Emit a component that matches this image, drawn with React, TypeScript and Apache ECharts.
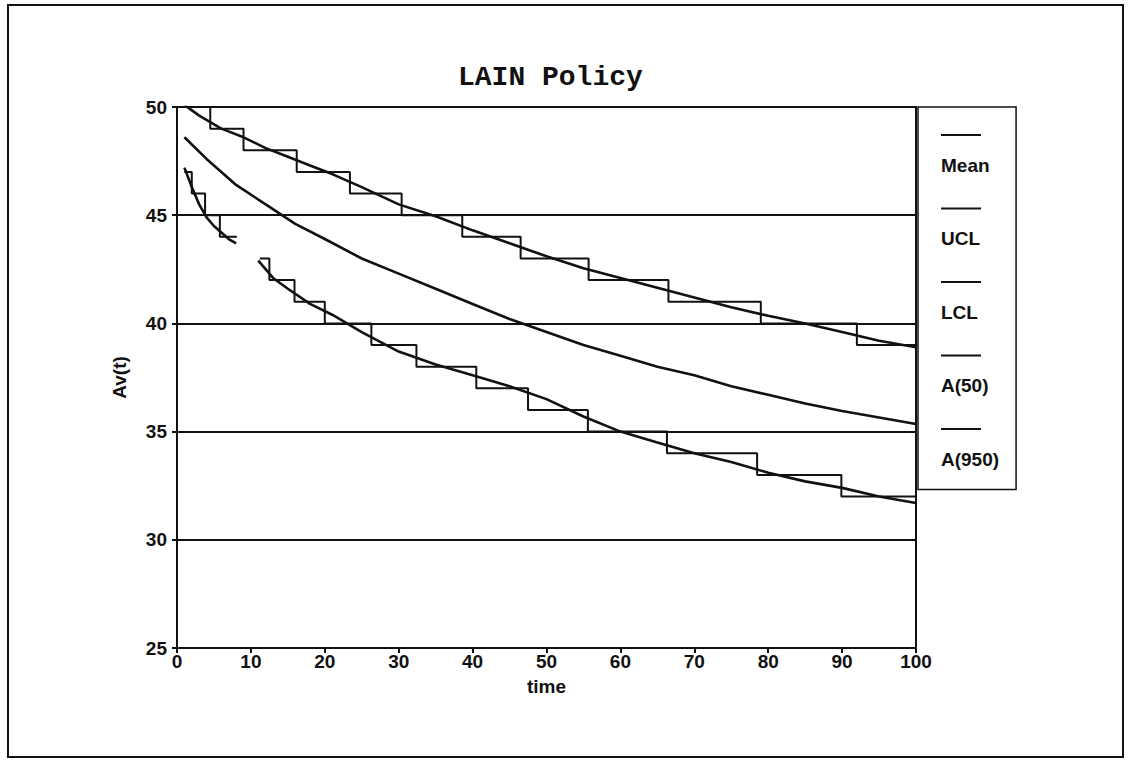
import React, { useEffect, useRef } from 'react';
import * as echarts from 'echarts';

// ---- data ----
const seriesNames = ['Mean', 'UCL', 'LCL', 'A(50)', 'A(950)'];

const meanT = [1, 4, 8, 12, 16, 20, 25, 30, 35, 40, 45, 50, 55, 60, 65, 70, 75, 80, 85, 90, 95, 100];
const meanV = [48.6, 47.6, 46.4, 45.5, 44.6, 43.9, 43.0, 42.3, 41.6, 40.9, 40.2, 39.6, 39.0, 38.5, 38.0, 37.6, 37.1, 36.7, 36.3, 35.95, 35.65, 35.35];

const uclT = [1, 3, 6, 9, 12, 15, 18, 21, 25, 30, 35, 40, 45, 50, 55, 60, 65, 70, 75, 80, 85, 90, 95, 100];
const uclV = [50.1, 49.6, 49.0, 48.6, 48.1, 47.7, 47.3, 46.9, 46.3, 45.5, 44.95, 44.3, 43.7, 43.1, 42.55, 42.1, 41.65, 41.2, 40.75, 40.35, 40.0, 39.6, 39.2, 38.9];

const lclT = [1, 2, 3, 4, 5, 6, 7, 8, 9.5, 11, 13, 15, 18, 21, 25, 30, 35, 40, 45, 50, 55, 60, 65, 70, 75, 80, 85, 90, 95, 100];
const lclV = [47.2, 46.3, 45.5, 44.9, 44.5, 44.2, 43.9, 43.7, null, 42.9, 42.1, 41.6, 40.9, 40.4, 39.6, 38.7, 38.1, 37.6, 37.1, 36.5, 35.7, 35.0, 34.5, 34.0, 33.6, 33.1, 32.7, 32.4, 32.0, 31.7];

const a50T = [1, 2, 3.8, 5.8, 8, 8.1, 11.2, 12.5, 15.9, 20, 26.3, 32.4, 40.5, 47.5, 55.6, 66.3, 78.5, 89.9, 100];
const a50V = [47, 46, 45, 44, 44, null, 43, 42, 41, 40, 39, 38, 37, 36, 35, 34, 33, 32, 32];

const a950T = [1, 4.5, 9, 16.2, 23.4, 30.4, 38.6, 46.5, 55.7, 66.5, 79, 92, 100];
const a950V = [50, 49, 48, 47, 46, 45, 44, 43, 42, 41, 40, 39, 39];

const xTicks = { min: 0, max: 100, interval: 10 };
const yTicks = { min: 25, max: 50, interval: 5 };

const pair = (t: number[], v: (number | null)[]) => t.map((x, i) => [x, v[i]]);

const INK = '#111';
const SANS = "'Liberation Sans Narrow', 'Liberation Sans', Arial, sans-serif";
const LABEL = { fontSize: 19, fontWeight: 'bold', fontFamily: SANS, color: INK };

export default function App() {
  const ref = useRef<HTMLDivElement>(null);
  useEffect(() => {
    const chart = echarts.init(ref.current!, null, { renderer: 'svg' });
    const line = (name: string, data: any[], width: number, step?: any) => ({
      name,
      type: 'line',
      data,
      step: step || false,
      showSymbol: false,
      symbol: 'none',
      connectNulls: false,
      lineStyle: { color: INK, width },
      itemStyle: { color: INK },
      z: 3,
    });
    chart.setOption({
      animation: false,
      backgroundColor: '#fff',
      title: {
        text: 'LAIN Policy',
        left: 453,
        top: 58,
        textStyle: { fontFamily: "'Liberation Mono', 'DejaVu Sans Mono', monospace", fontWeight: 'bold', fontSize: 28, color: INK },
      },
      grid: { left: 177, right: 215, top: 107, bottom: 119, show: true, borderColor: INK, borderWidth: 2, backgroundColor: 'transparent' },
      legend: {
        data: seriesNames,
        orient: 'vertical',
        left: 918,
        top: 107,
        icon: 'rect',
        itemWidth: 1,
        itemHeight: 1,
        itemGap: 33,
        padding: [27, 17, 21, 17],
        borderColor: INK,
        borderWidth: 1.5,
        itemStyle: { color: 'rgba(0,0,0,0)', borderWidth: 0 },
        lineStyle: { color: 'rgba(0,0,0,0)', width: 0 },
        formatter: (name: string) => `{b| }\n{t|${name}}`,
        textStyle: {
          color: INK,
          rich: {
            b: { width: 40, height: 2, fontSize: 1, lineHeight: 2, backgroundColor: INK },
            t: { ...LABEL, lineHeight: 58 },
          },
        },
      },
      xAxis: {
        type: 'value',
        ...xTicks,
        name: 'time',
        nameLocation: 'middle',
        nameGap: 29,
        nameTextStyle: LABEL,
        axisLine: { show: true, onZero: false, lineStyle: { color: INK, width: 2 } },
        axisTick: { show: true, length: 5, lineStyle: { color: INK, width: 2 } },
        axisLabel: { ...LABEL, margin: 4 },
        splitLine: { show: false },
      },
      yAxis: {
        type: 'value',
        ...yTicks,
        name: 'Av(t)',
        nameLocation: 'middle',
        nameGap: 48,
        nameTextStyle: LABEL,
        axisLine: { show: true, onZero: false, lineStyle: { color: INK, width: 2 } },
        axisTick: { show: true, length: 5, lineStyle: { color: INK, width: 2 } },
        axisLabel: { ...LABEL, margin: 10 },
        splitLine: { show: true, lineStyle: { color: INK, width: 2 } },
      },
      graphic: [
        {
          type: 'rect',
          shape: { x: 8, y: 5, width: 1115, height: 752 },
          style: { fill: 'none', stroke: INK, lineWidth: 2 },
          silent: true,
        },
      ],
      series: [
        line('Mean', pair(meanT, meanV), 2.6),
        line('UCL', pair(uclT, uclV), 2.6),
        line('LCL', pair(lclT, lclV), 2.6),
        line('A(50)', pair(a50T, a50V), 2, 'end'),
        line('A(950)', pair(a950T, a950V), 2, 'end'),
      ],
    });
    return () => chart.dispose();
  }, []);
  return (
    <div
      ref={ref}
      style={{ position: 'fixed', left: 0, top: 0, width: 1131, height: 767, background: '#fff' }}
    />
  );
}
